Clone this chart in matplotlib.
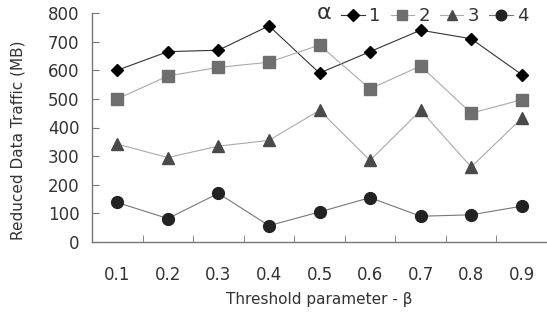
import numpy as np
import matplotlib.pyplot as plt

plt.rcParams['font.family'] = ['DejaVu Sans']

# Threshold values on the x axis
betas = ['0.1', '0.2', '0.3', '0.4', '0.5', '0.6', '0.7', '0.8', '0.9']

# Reduced data traffic (MB) for each alpha
alpha1 = [600, 665, 670, 755, 590, 665, 740, 710, 585]
alpha2 = [500, 580, 610, 628, 688, 535, 615, 450, 497]
alpha3 = [342, 295, 335, 355, 460, 285, 460, 262, 432]
alpha4 = [138, 82, 170, 57, 105, 155, 90, 95, 125]

fig = plt.figure(figsize=(5.47, 3.21), dpi=100)
ax = fig.add_axes([92 / 547, 1 - 242 / 321, 455 / 547, 229 / 321])

x = np.arange(len(betas))
ax.plot(x, alpha1, color='#333333', lw=0.8, marker='D', ms=6.5,
        mfc='black', mec='black', label='1')
ax.plot(x, alpha2, color='#aaaaaa', lw=0.8, marker='s', ms=8,
        mfc='#6e6e6e', mec='#6e6e6e', label='2')
ax.plot(x, alpha3, color='#aaaaaa', lw=0.8, marker='^', ms=8.5,
        mfc='#4a4a4a', mec='#4a4a4a', label='3')
ax.plot(x, alpha4, color='#777777', lw=0.8, marker='o', ms=8.5,
        mfc='#222222', mec='#222222', label='4')

ax.set_xlim(-0.5, len(betas) - 0.5)
ax.set_ylim(0, 800)
ax.set_yticks(range(0, 801, 100))
ax.set_xticks(x)
ax.set_xticklabels(betas)
ax.set_xticks(np.arange(0.5, len(betas) - 1, 1), minor=True)

for side in ['top', 'right']:
    ax.spines[side].set_visible(False)
for side in ['left', 'bottom']:
    ax.spines[side].set_color('#777777')
    ax.spines[side].set_linewidth(1.0)

ax.tick_params(axis='y', direction='in', length=5, color='#777777',
               labelsize=12, labelcolor='#333333', pad=9)
ax.tick_params(axis='x', which='major', length=0, labelsize=12,
               labelcolor='#333333', pad=17)
ax.tick_params(axis='x', which='minor', direction='in', length=5,
               color='#777777')

ax.set_ylabel('Reduced Data Traffic (MB)', fontsize=11, color='#333333')
ax.yaxis.set_label_coords(-0.147, 0.445)
ax.set_xlabel('Threshold parameter - β', fontsize=11, color='#333333',
              labelpad=6)

leg = ax.legend(ncol=4, loc='upper right', bbox_to_anchor=(0.98, 1.065),
                frameon=False, fontsize=13, handlelength=1.3,
                handletextpad=0.25, columnspacing=0.55, borderpad=0,
                markerscale=0.9)
for t in leg.get_texts():
    t.set_color('#333333')
fig.text(317 / 547, 1 - 13 / 321, 'α', fontsize=16, color='#333333',
         va='center', ha='left')

fig.savefig('out.png', dpi=100)
